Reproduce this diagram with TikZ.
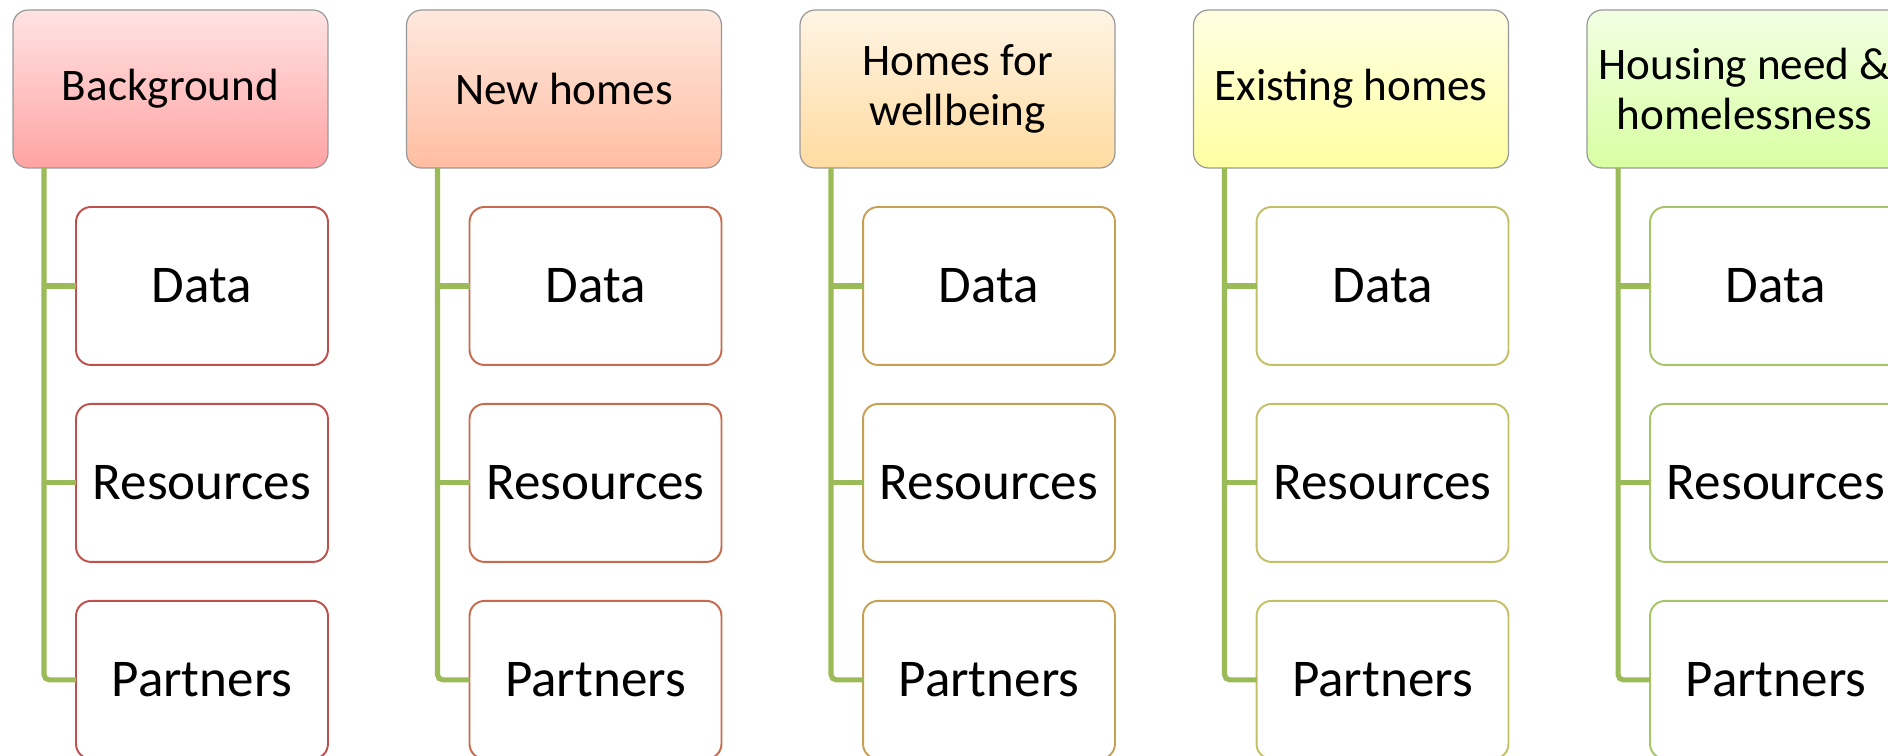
\documentclass[tikz,border=0pt]{standalone}
\usepackage{fontspec}
\setmainfont{Carlito}
\usetikzlibrary{positioning,calc}

\definecolor{spinegreen}{HTML}{9BBB59}
\definecolor{bgtop}{HTML}{FFE3E3}\definecolor{bgbot}{HTML}{FFA3A3}\definecolor{bgedge}{HTML}{C0504D}
\definecolor{nhtop}{HTML}{FFE8DE}\definecolor{nhbot}{HTML}{FFBDA2}\definecolor{nhedge}{HTML}{C86B4C}
\definecolor{hwtop}{HTML}{FFF4E4}\definecolor{hwbot}{HTML}{FFDBA0}\definecolor{hwedge}{HTML}{C8A055}
\definecolor{ehtop}{HTML}{FFFFE2}\definecolor{ehbot}{HTML}{FFFFA2}\definecolor{ehedge}{HTML}{C3C065}
\definecolor{hntop}{HTML}{F2FFE4}\definecolor{hnbot}{HTML}{D8FFA2}\definecolor{hnedge}{HTML}{A9C468}

\begin{document}
\begin{tikzpicture}[x=0.02cm, y=-0.02cm,
    topic/.style={draw=gray!80, line width=0.7pt, rounded corners=0.3cm, outer sep=0pt,
        minimum width=6.3cm, minimum height=3.16cm, align=center,
        font=\fontsize{25.7}{28.5}\selectfont},
    item/.style={draw, fill=white, line width=1.1pt, rounded corners=0.3cm, outer sep=0pt,
        minimum width=5.04cm, minimum height=3.16cm,
        font=\fontsize{30.2}{34}\selectfont},
    link/.style={spinegreen, line width=2.9pt}]
    \useasboundingbox (0,0) rectangle (1888,755);
    % One column per topic
    \foreach \i/\title/\c in {0/Background/bg, 1/New homes/nh, 2/{Homes for\\wellbeing}/hw,
                              3/Existing homes/eh, 4/{Housing need \&\\homelessness}/hn} {
        \pgfmathsetmacro{\xl}{13+393.5*\i}
        \node[topic, top color=\c top, bottom color=\c bot] (h\i) at (\xl+157.5,89) {\title};
        % Sub-items
        \node[item, draw=\c edge, below left=0.78cm and 0cm of h\i.south east] (d\i) {Data};
        \node[item, draw=\c edge, below=0.78cm of d\i] (r\i) {Resources};
        \node[item, draw=\c edge, below=0.78cm of r\i] (p\i) {Partners};
        % Spine
        \coordinate (s\i) at ([xshift=0.62cm]h\i.south west);
        \draw[link, rounded corners=3pt] (s\i) |- (p\i.west);
        \draw[link] (s\i |- d\i.west) -- (d\i.west);
        \draw[link] (s\i |- r\i.west) -- (r\i.west);
    }
\end{tikzpicture}
\end{document}
